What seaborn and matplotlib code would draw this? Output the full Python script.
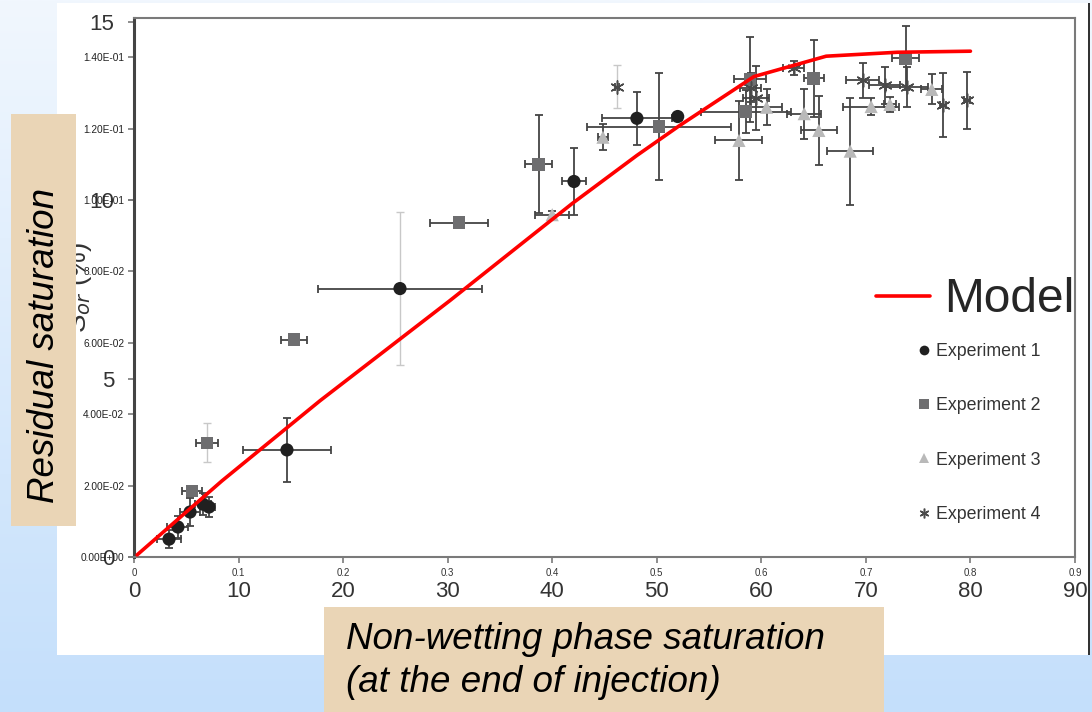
import numpy as np
import pandas as pd
import matplotlib
matplotlib.use("Agg")
import matplotlib.pyplot as plt
import seaborn as sns
from matplotlib.patches import Rectangle
from matplotlib.lines import Line2D
from matplotlib.colors import LinearSegmentedColormap

# ---------------- data ----------------
model_x = [0.003, 0.084, 0.178, 0.302, 0.419, 0.481, 0.522, 0.593, 0.662, 0.730, 0.800]
model_y = [0.0006, 0.0213, 0.0438, 0.0718, 0.0990, 0.1125, 0.1209, 0.1346, 0.1403, 0.1414, 0.1417]

exp1_x = [0.0335, 0.042, 0.0536, 0.066, 0.0717, 0.1463, 0.2544, 0.4208, 0.481, 0.520]
exp1_y = [0.0050, 0.0084, 0.0126, 0.0148, 0.0140, 0.0300, 0.0752, 0.1052, 0.1229, 0.1234]
exp1_xerr = [0.0115, 0.010, 0.010, 0.008, 0.006, 0.042, 0.078, 0.0117, 0.0335, 0.004]
exp1_yerr = [0.0025, 0.003, 0.004, 0.003, 0.0028, 0.009, 0.0214, 0.0094, 0.0075, 0.001]

exp2_x = [0.0555, 0.0698, 0.153, 0.311, 0.387, 0.502, 0.585, 0.589, 0.650, 0.738]
exp2_y = [0.0185, 0.0320, 0.0609, 0.0937, 0.1100, 0.1206, 0.1248, 0.1338, 0.1341, 0.1397]
exp2_xerr = [0.010, 0.0105, 0.0127, 0.0277, 0.013, 0.069, 0.043, 0.015, 0.0096, 0.013]
exp2_yerr = [0.001, 0.0054, 0.001, 0.0, 0.0137, 0.0151, 0.006, 0.012, 0.0108, 0.009]

exp3_x = [0.400, 0.4485, 0.5786, 0.605, 0.641, 0.655, 0.685, 0.705, 0.723, 0.763]
exp3_y = [0.0959, 0.1176, 0.1167, 0.1260, 0.1242, 0.1195, 0.1137, 0.1262, 0.1268, 0.1310]
exp3_xerr = [0.016, 0.005, 0.0225, 0.015, 0.016, 0.017, 0.022, 0.027, 0.006, 0.010]
exp3_yerr = [0.001, 0.0036, 0.011, 0.005, 0.007, 0.0097, 0.015, 0.0025, 0.002, 0.0042]

exp4_x = [0.462, 0.590, 0.595, 0.631, 0.697, 0.718, 0.739, 0.774, 0.797]
exp4_y = [0.1318, 0.1315, 0.1285, 0.1369, 0.1335, 0.1321, 0.1318, 0.1267, 0.1280]
exp4_xerr = [0.002, 0.010, 0.0125, 0.010, 0.016, 0.015, 0.020, 0.003, 0.003]
exp4_yerr = [0.006, 0.004, 0.009, 0.002, 0.005, 0.0053, 0.0056, 0.009, 0.008]

series_names = ["Experiment 1", "Experiment 2", "Experiment 3", "Experiment 4"]
x_small_ticks = [0, 0.1, 0.2, 0.3, 0.4, 0.5, 0.6, 0.7, 0.8, 0.9]
x_small_labels = ["0", "0.1", "0.2", "0.3", "0.4", "0.5", "0.6", "0.7", "0.8", "0.9"]
y_small_ticks = [0, 0.02, 0.04, 0.06, 0.08, 0.10, 0.12, 0.14]
y_small_labels = ["0.00E+00", "2.00E-02", "4.00E-02", "6.00E-02", "8.00E-02",
                  "1.00E-01", "1.20E-01", "1.40E-01"]
x_big_ticks = [0, 10, 20, 30, 40, 50, 60, 70, 80, 90]
y_big_ticks = [0, 5, 10, 15]

# ---------------- style ----------------
sns.set_theme(style="white")
plt.rcParams["font.family"] = ["Liberation Sans", "DejaVu Sans"]

W, H = 1092, 712
fig = plt.figure(figsize=(W / 100, H / 100), dpi=100)

# slide background (pixel coordinates)
bg = fig.add_axes([0, 0, 1, 1], zorder=0)
bg.set_xlim(0, W)
bg.set_ylim(H, 0)
bg.axis("off")
cmap = LinearSegmentedColormap.from_list("slide", ["#f1f7fe", "#c4dffb"])
bg.imshow(np.linspace(0, 1, 256)[:, None], cmap=cmap, extent=[0, W, H, 0], aspect="auto")
bg.add_patch(Rectangle((57, 3), 1031, 652, facecolor="white", edgecolor="none"))
bg.add_patch(Rectangle((1087.5, 3), 2, 652, facecolor="#333333", edgecolor="none"))

# main chart axes
ax = fig.add_axes([134 / W, (H - 557) / H, (1075 - 134) / W, (557 - 18) / H], zorder=2)
ax.set_facecolor("none")
ax.set_xlim(0, 0.9)
ax.set_ylim(0, 0.151)

ecol = "#444444"
faint = "#c8c8c8"
series = [
    (exp1_x, exp1_y, exp1_xerr, exp1_yerr, "o", "#202020", 90, [6]),
    (exp2_x, exp2_y, exp2_xerr, exp2_yerr, "s", "#6e6e70", 80, [1]),
    (exp3_x, exp3_y, exp3_xerr, exp3_yerr, "^", "#b9b9b9", 90, []),
    (exp4_x, exp4_y, exp4_xerr, exp4_yerr, (6, 2, 0), "#4a4a4a", 90, [0]),
]

for name, (xs, ys, xe, ye, mk, col, size, faint_idx) in zip(series_names, series):
    df = pd.DataFrame({"x": xs, "y": ys, "xe": xe, "ye": ye})
    ax.errorbar(df["x"], df["y"], xerr=df["xe"], fmt="none", ecolor=ecol,
                elinewidth=1.3, capsize=3, capthick=1.3, zorder=2)
    strong = df.drop(index=faint_idx)
    weak = df.loc[faint_idx]
    ax.errorbar(strong["x"], strong["y"], yerr=strong["ye"], fmt="none", ecolor=ecol,
                elinewidth=1.3, capsize=3, capthick=1.3, zorder=2)
    if len(weak):
        ax.errorbar(weak["x"], weak["y"], yerr=weak["ye"], fmt="none", ecolor=faint,
                    elinewidth=1.0, capsize=3, capthick=1.0, zorder=2)
    if isinstance(mk, tuple):
        sns.scatterplot(data=df, x="x", y="y", marker=mk, color=col, s=size,
                        linewidth=1.1, ax=ax, zorder=3, legend=False)
    else:
        sns.scatterplot(data=df, x="x", y="y", marker=mk, color=col, s=size,
                        edgecolor="none", linewidth=0, ax=ax, zorder=3, legend=False)

mdf = pd.DataFrame({"x": model_x, "y": model_y})
sns.lineplot(data=mdf, x="x", y="y", color="#ff0000", linewidth=2.6, sort=False,
             ax=ax, zorder=4, legend=False)

ax.set_xlabel("")
ax.set_ylabel("")

# spines
for s in ["top", "right", "bottom"]:
    ax.spines[s].set_color("#7a7a7a")
    ax.spines[s].set_linewidth(1.5)
ax.spines["left"].set_color("#444444")
ax.spines["left"].set_linewidth(2.2)

# small ticks
ax.set_xticks(x_small_ticks, labels=x_small_labels)
ax.set_yticks(y_small_ticks, labels=y_small_labels)
ax.tick_params(axis="x", direction="out", length=4, width=1.2, color="#7a7a7a",
               labelsize=7, labelcolor="#333333", pad=4, bottom=True)
ax.tick_params(axis="y", direction="out", length=4, width=1.2, color="#7a7a7a",
               labelsize=7.3, labelcolor="#222222", pad=3, left=True)

# big ticks (percentage scale)
secx = ax.secondary_xaxis("bottom", functions=(lambda v: v * 100, lambda v: v / 100))
secx.set_xticks(x_big_ticks)
secx.tick_params(length=0, labelsize=16, labelcolor="#333333", pad=17)
secx.spines["bottom"].set_visible(False)

secy = ax.secondary_yaxis("left", functions=(lambda v: v * 100, lambda v: v / 100))
secy.set_yticks(y_big_ticks)
secy.tick_params(length=4, width=1.2, color="#7a7a7a", labelsize=16,
                 labelcolor="#333333", pad=10)
secy.spines["left"].set_visible(False)

# legends
leg1 = ax.legend(handles=[Line2D([], [], color="#ff0000", lw=2.6)], labels=["Model"],
                 loc="center left", bbox_to_anchor=(876 / W, 1 - 300 / H),
                 bbox_transform=fig.transFigure, frameon=False, fontsize=34.5,
                 handlelength=1.12, handletextpad=0.3, borderpad=0, borderaxespad=0)
ax.add_artist(leg1)

exp_handles = [
    Line2D([], [], ls="", marker="o", color="#202020", ms=7, mew=0),
    Line2D([], [], ls="", marker="s", color="#6e6e70", ms=6.5, mew=0),
    Line2D([], [], ls="", marker="^", color="#b9b9b9", ms=7, mew=0),
    Line2D([], [], ls="", marker=(6, 2, 0), color="#4a4a4a", ms=7, mew=1.1),
]
leg2 = ax.legend(handles=exp_handles, labels=series_names, loc="center left",
                 bbox_to_anchor=(916 / W, 1 - 433 / H), bbox_transform=fig.transFigure,
                 frameon=False, fontsize=12.8, handlelength=0.9, handletextpad=0.2,
                 labelspacing=2.1, borderpad=0, borderaxespad=0)
for t in leg2.get_texts():
    t.set_color("#333333")

# overlay: hidden original label and the tan label boxes
ov = fig.add_axes([0, 0, 1, 1], zorder=5)
ov.set_xlim(0, W)
ov.set_ylim(H, 0)
ov.axis("off")
ov.set_facecolor("none")
ov.text(79, 288, "S$_{or}$ (%)", rotation=90, ha="center", va="center",
        fontsize=20, color="#333333", zorder=1)
ov.add_patch(Rectangle((11, 114), 65, 412, facecolor="#ead5b6", edgecolor="none", zorder=2))
ov.text(45, 345, "Residual saturation", rotation=90, ha="center", va="center",
        fontsize=26.5, style="italic", color="black", zorder=3)
ov.add_patch(Rectangle((324, 607), 560, 110, facecolor="#ead5b6", edgecolor="none", zorder=2))
ov.text(346, 622, "Non-wetting phase saturation\n(at the end of injection)",
        ha="left", va="top", fontsize=26.5, style="italic", color="black",
        linespacing=1.3, zorder=3)

fig.savefig("out.png", dpi=100)
